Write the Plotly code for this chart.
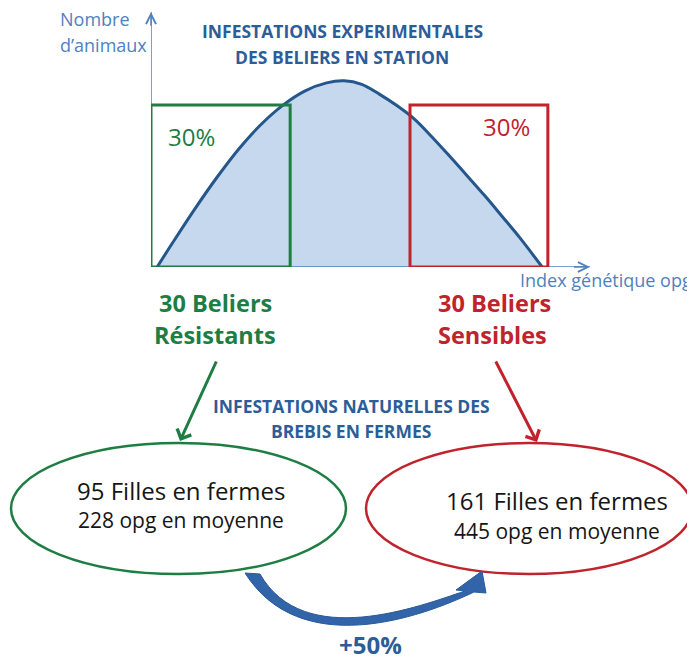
import plotly.graph_objects as go

# ---- data ----
# distribution of rams along the genetic index (opg), arbitrary units
index_x = [1.4, 5, 10, 15, 20, 25, 30, 35, 40, 44, 48, 52, 56, 60, 64, 68, 72, 76, 80, 84, 89.1]
count_y = [0.0, 9.7, 22.8, 35.1, 46.3, 55.8, 63.4, 69.0, 72.2, 73.0, 71.6, 67.8, 63.3,
           58.0, 51.0, 43.5, 35.8, 28.0, 19.8, 11.5, 0.0]

resist_window = [0.0, 31.7]     # 30% most resistant
sensible_window = [59.0, 90.4]  # 30% most sensitive
window_height = 63.5

share_labels = ["30%", "30%"]
group_line1 = ["30 Beliers", "30 Beliers"]
group_line2 = ["Résistants", "Sensibles"]
daughters = ["95 Filles en fermes", "161 Filles en fermes"]
mean_opg = ["228 opg en moyenne", "445 opg en moyenne"]
increase_label = "+50%"

BLUE_T = "#2c5d98"
BLUE_AX = "#4f81bd"
CURVE = "#25568c"
FILL = "#c6d8ee"
GREEN = "#1e7d43"
RED = "#c0232c"
FONT = "Open Sans"

# page body has an 8px margin: the figure is drawn from (8, 8) of the window
OFF = 8
W, H = 695, 661
FW, FH = W - OFF, H - OFF

fig = go.Figure()
fig.add_trace(go.Scatter(
    x=index_x, y=count_y, xaxis="x2", yaxis="y2", mode="lines",
    line=dict(shape="spline", smoothing=1.0, color=CURVE, width=3),
    fill="tozeroy", fillcolor=FILL, hoverinfo="skip", showlegend=False))

shapes = []
# axes lines
shapes.append(dict(type="line", xref="x2", yref="y2", x0=0, x1=100, y0=0, y1=0,
                   line=dict(color=BLUE_AX, width=1.5)))
shapes.append(dict(type="line", xref="x2", yref="y2", x0=0, x1=0, y0=0, y1=100,
                   line=dict(color=BLUE_AX, width=1.5)))
# selection windows
shapes.append(dict(type="rect", xref="x2", yref="y2", x0=resist_window[0], x1=resist_window[1],
                   y0=0, y1=window_height, line=dict(color=GREEN, width=3)))
shapes.append(dict(type="rect", xref="x2", yref="y2", x0=sensible_window[0], x1=sensible_window[1],
                   y0=0, y1=window_height, line=dict(color=RED, width=3)))
# ellipses
shapes.append(dict(type="circle", xref="x", yref="y", x0=11, x1=346, y0=443, y1=574,
                   line=dict(color=GREEN, width=2.5)))
shapes.append(dict(type="circle", xref="x", yref="y", x0=366, x1=692, y0=443, y1=574,
                   line=dict(color=RED, width=2.5)))
# curved +50% arrow
path = ("M 245 573 C 300 660, 420 618, 474 592 "
        "L 486 593 L 482 571 L 456 590 L 465 591 "
        "C 420 606, 304 651, 260 574 Z")
shapes.append(dict(type="path", xref="x", yref="y", path=path,
                   fillcolor="#3164a8", line=dict(color="#2a5a98", width=1)))

ann = []
# axis arrowheads
ann.append(dict(xref="x2", yref="y2", axref="x2", ayref="y2", x=100, y=0, ax=96, ay=0,
                showarrow=True, arrowhead=5, arrowwidth=1.5, arrowsize=1.3,
                arrowcolor=BLUE_AX, text=""))
ann.append(dict(xref="x2", yref="y2", axref="x2", ayref="y2", x=0, y=100, ax=0, ay=94,
                showarrow=True, arrowhead=5, arrowwidth=1.5, arrowsize=1.3,
                arrowcolor=BLUE_AX, text=""))


def txt(x, y, s, size, color, bold=False, xanchor="center"):
    if bold:
        s = "<b>" + s + "</b>"
    ann.append(dict(xref="x", yref="y", x=x, y=y, text=s, showarrow=False,
                    xanchor=xanchor, yanchor="middle",
                    font=dict(family=FONT, size=size, color=color)))


txt(58, 19, "Nombre", 18, BLUE_AX, xanchor="left")
txt(58, 45, "d’animaux", 18, BLUE_AX, xanchor="left")
txt(518, 280, "Index génétique opg", 18, BLUE_AX, xanchor="left")
txt(342, 31, "INFESTATIONS EXPERIMENTALES", 17.5, BLUE_T, bold=True)
txt(342, 57, "DES BELIERS EN STATION", 17.5, BLUE_T, bold=True)
txt(191, 136, share_labels[0], 24, GREEN)
txt(506, 126, share_labels[1], 24, RED)
txt(215, 303, group_line1[0], 23.5, GREEN, bold=True)
txt(215, 335, group_line2[0], 23.5, GREEN, bold=True)
txt(494, 303, group_line1[1], 23.5, RED, bold=True)
txt(492, 335, group_line2[1], 23.5, RED, bold=True)
txt(351, 406, "INFESTATIONS NATURELLES DES", 17.5, BLUE_T, bold=True)
txt(351, 431, "BREBIS EN FERMES", 17.5, BLUE_T, bold=True)
txt(181, 490, daughters[0], 24, "#151515")
txt(181, 520, mean_opg[0], 21, "#151515")
txt(557, 500, daughters[1], 24, "#151515")
txt(557, 531, mean_opg[1], 21, "#151515")
txt(370, 644, increase_label, 24, BLUE_T, bold=True)

# green / red arrows
ann.append(dict(xref="x", yref="y", axref="x", ayref="y", x=180, y=441, ax=217, ay=360,
                showarrow=True, arrowhead=4, arrowwidth=3, arrowsize=1.0,
                arrowcolor=GREEN, text=""))
ann.append(dict(xref="x", yref="y", axref="x", ayref="y", x=537, y=442, ax=495, ay=360,
                showarrow=True, arrowhead=4, arrowwidth=3, arrowsize=1.0,
                arrowcolor=RED, text=""))

fig.update_layout(
    width=FW, height=FH, margin=dict(l=0, r=0, t=0, b=0),
    paper_bgcolor="white", plot_bgcolor="white", showlegend=False,
    xaxis=dict(range=[OFF, W], domain=[0, 1], visible=False, fixedrange=True),
    yaxis=dict(range=[H, OFF], domain=[0, 1], visible=False, fixedrange=True),
    xaxis2=dict(range=[0, 100], domain=[(151 - OFF) / FW, (590 - OFF) / FW],
                anchor="y2", visible=False),
    yaxis2=dict(range=[0, 100], domain=[(H - 267) / FH, (H - 12) / FH],
                anchor="x2", visible=False),
    shapes=shapes, annotations=ann,
)

fig.write_html("out.html")
